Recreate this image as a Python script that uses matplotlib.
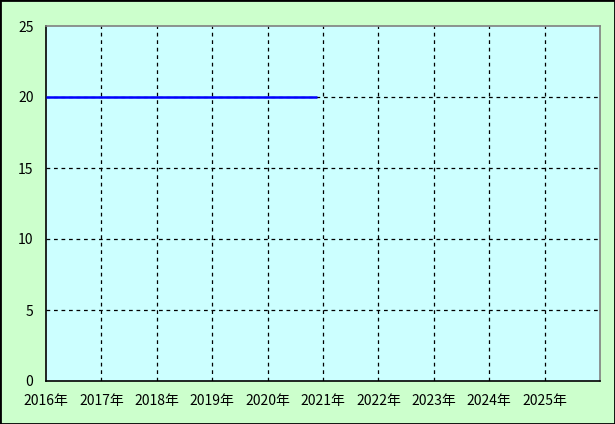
import matplotlib
matplotlib.use("Agg")
import matplotlib.pyplot as plt
from matplotlib.patches import Rectangle

plt.rcParams['font.family'] = ['Noto Sans CJK JP', 'DejaVu Sans']

# data
x_vals = [2016.0, 2020.9]
y_vals = [20, 20]
x_ticks = list(range(2016, 2026))
x_labels = ["%d年" % y for y in x_ticks]
y_ticks = [0, 5, 10, 15, 20, 25]

fig = plt.figure(figsize=(6.15, 4.24), dpi=100, facecolor='#CCFFCC')
ax = fig.add_axes([46/615, 43/424, 554/615, 355/424])
ax.set_facecolor('#CCFFFF')

ax.plot(x_vals, y_vals, color='#0000FF', lw=1.8, solid_capstyle='butt', zorder=3)

ax.set_xlim(2016, 2026)
ax.set_ylim(0, 25)
ax.set_xticks(x_ticks)
ax.set_xticklabels(x_labels)
ax.set_yticks(y_ticks)
ax.tick_params(length=0, labelsize=10, pad=9)
ax.tick_params(axis='y', pad=9)

ax.grid(True, color='black', linestyle=(0, (3, 3)), lw=0.9)
ax.set_axisbelow(True)
# no grid on the frame edges
ax.xaxis.get_gridlines()[0].set_visible(False)
ax.yaxis.get_gridlines()[0].set_visible(False)
ax.yaxis.get_gridlines()[-1].set_visible(False)

ax.spines['left'].set_color('black')
ax.spines['bottom'].set_color('black')
ax.spines['top'].set_color('#808080')
ax.spines['right'].set_color('#808080')
for s in ax.spines.values():
    s.set_linewidth(1.2)

fig.patches.append(Rectangle((0, 0), 1, 1, transform=fig.transFigure, fill=False,
                             edgecolor='black', lw=2))

fig.savefig("out.png", dpi=100, facecolor=fig.get_facecolor())
